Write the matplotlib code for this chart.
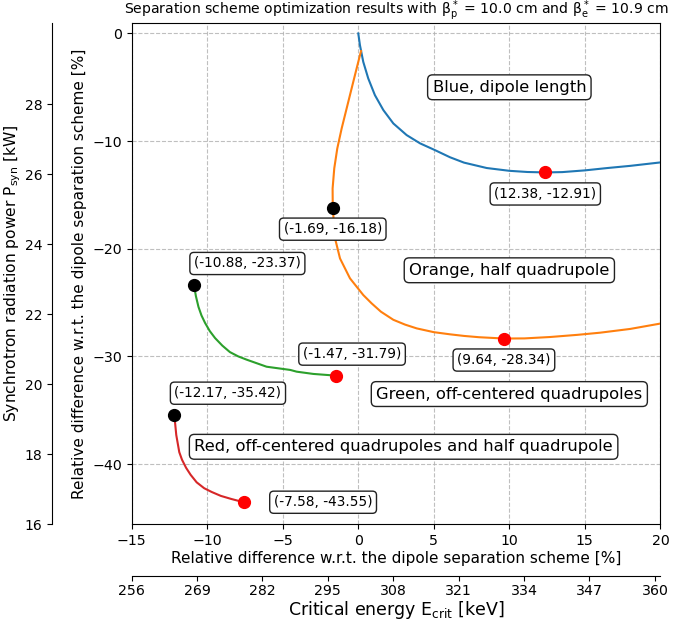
import matplotlib
matplotlib.use("Agg")
import matplotlib.pyplot as plt

# curves (relative difference in %, x = E_crit, y = P_syn)
BLUE_X = [0.0, 0.11, 0.33, 0.66, 1.1, 1.66, 2.32, 3.2, 4.09, 5.08, 6.07, 7.0, 8.5, 10.0,
          11.2, 12.38, 13.5, 15.0, 16.5, 18.0, 20.0]
BLUE_Y = [0.0, -1.09, -2.64, -4.18, -5.73, -7.12, -8.36, -9.44, -10.21, -10.84, -11.5,
          -12.0, -12.5, -12.76, -12.87, -12.91, -12.88, -12.72, -12.5, -12.3, -11.98]

ORANGE_X = [0.18, -0.11, -0.44, -0.77, -1.1, -1.39, -1.59, -1.7, -1.69, -1.54, -1.21,
            -0.55, 0.33, 0.88, 1.5, 2.32, 3.1, 3.87, 5.0, 6.07, 7.0, 8.0, 9.64, 11.0, 12.7,
            14.5, 16.0, 18.0, 20.0]
ORANGE_Y = [-1.64, -3.25, -5.1, -6.96, -8.82, -10.68, -12.53, -14.4, -16.18, -19.03, -20.9,
            -22.75, -24.3, -25.07, -25.85, -26.6, -27.05, -27.4, -27.75, -27.95, -28.1,
            -28.22, -28.34, -28.33, -28.2, -28.0, -27.8, -27.45, -26.95]

GREEN_X = [-10.88, -10.75, -10.58, -10.38, -10.14, -9.83, -9.48, -9.0, -8.5, -7.95, -7.4,
           -6.07, -4.97, -4.5, -4.08, -2.98, -1.47]
GREEN_Y = [-23.37, -24.4, -25.4, -26.2, -26.9, -27.65, -28.3, -29.0, -29.6, -30.0, -30.3,
           -30.96, -31.17, -31.26, -31.42, -31.63, -31.79]

RED_X = [-12.17, -12.14, -12.05, -11.85, -11.67, -11.4, -11.1, -10.7, -10.2, -9.7, -9.1,
         -8.4, -7.58]
RED_Y = [-35.42, -36.0, -37.3, -38.9, -39.6, -40.35, -41.0, -41.7, -42.25, -42.6, -42.96,
         -43.25, -43.55]

COLORS = ["#1f77b4", "#ff7f0e", "#2ca02c", "#d62728"]

# start points (black) and optima (red)
START_PTS = [(-1.69, -16.18), (-10.88, -23.37), (-12.17, -35.42)]
OPT_PTS = [(12.38, -12.91), (9.64, -28.34), (-1.47, -31.79), (-7.58, -43.55)]

X_TICKS = [-15, -10, -5, 0, 5, 10, 15, 20]
Y_TICKS = [0, -10, -20, -30, -40]
P_TICKS = [16, 18, 20, 22, 24, 26, 28]
E_TICKS = [256, 269, 282, 295, 308, 321, 334, 347, 360]

LABELS = [
    ("Blue, dipole length", 10, -5),
    ("Orange, half quadrupole", 10, -22),
    ("Green, off-centered quadrupoles", 10, -33.5),
    ("Red, off-centered quadrupoles and half quadrupole", 3, -38.4),
]

fig = plt.figure(figsize=(6.85, 6.2), dpi=100)
rect = [131.7 / 685, 1 - 524.3 / 620, (660.4 - 131.7) / 685, (524.3 - 22.7) / 620]

# outer axis for synchrotron power
axp = fig.add_axes(rect)
axp.patch.set_visible(False)
for s in ["top", "right", "bottom"]:
    axp.spines[s].set_visible(False)
axp.spines["left"].set_position(("outward", 57.6))
axp.set_xticks([])
axp.set_ylim(16, 30.33)
axp.set_yticks(P_TICKS)
axp.tick_params(axis="y", labelsize=10, pad=3)
axp.set_ylabel(r"Synchrotron radiation power P$_{\rm syn}$ [kW]", fontsize=11.2)
axp.yaxis.set_label_coords(-0.206, 0.5)

# outer axis for critical energy
axe = fig.add_axes(rect)
axe.patch.set_visible(False)
for s in ["top", "right", "left"]:
    axe.spines[s].set_visible(False)
axe.spines["bottom"].set_position(("outward", 37))
axe.set_yticks([])
axe.set_xlim(256, 361.1)
axe.set_xticks(E_TICKS)
axe.tick_params(axis="x", labelsize=10.2, pad=2.5)
axe.set_xlabel(r"Critical energy E$_{\rm crit}$ [keV]", fontsize=12.5, labelpad=1)

ax = fig.add_axes(rect)
ax.grid(True, linestyle="--", color="#b0b0b0", linewidth=0.8, alpha=0.8)
ax.set_axisbelow(True)

for xs, ys, c in zip([BLUE_X, ORANGE_X, GREEN_X, RED_X],
                     [BLUE_Y, ORANGE_Y, GREEN_Y, RED_Y], COLORS):
    ax.plot(xs, ys, color=c, linewidth=1.5, zorder=3)

ax.plot([p[0] for p in START_PTS], [p[1] for p in START_PTS], "o", color="black",
        markersize=8.5, linestyle="none", zorder=4)
ax.plot([p[0] for p in OPT_PTS], [p[1] for p in OPT_PTS], "o", color="red",
        markersize=8.5, linestyle="none", zorder=4)

box = dict(boxstyle="round,pad=0.3", facecolor="white", edgecolor="#222222", linewidth=1)
# (point, offset in points, ha)
annots = [
    (OPT_PTS[0], (0, -15.5), "center"),
    (START_PTS[0], (0, -15.5), "center"),
    (OPT_PTS[1], (0, -15.5), "center"),
    (START_PTS[1], (0, 15.5), "left"),
    (OPT_PTS[2], (11.5, 15.5), "center"),
    (START_PTS[2], (0, 15.5), "left"),
    (OPT_PTS[3], (21.6, 0), "left"),
]
for (px, py), off, ha in annots:
    ax.annotate(f"({px:.2f}, {py:.2f})", xy=(px, py), xytext=off,
                textcoords="offset points", ha=ha, va="center", fontsize=9.8,
                bbox=box, zorder=5)

for text, tx, ty in LABELS:
    ax.text(tx, ty, text, ha="center", va="center", fontsize=11.8,
            bbox=dict(boxstyle="round,pad=0.3", facecolor="white",
                      edgecolor="#222222", linewidth=1), zorder=5)

ax.set_xlim(-15, 20)
ax.set_ylim(-45.6, 1.0)
ax.set_xticks(X_TICKS)
ax.set_yticks(Y_TICKS)
ax.tick_params(labelsize=10.2)
ax.set_xlabel("Relative difference w.r.t. the dipole separation scheme [%]", fontsize=11,
              labelpad=2)
ax.set_ylabel("Relative difference w.r.t. the dipole separation scheme [%]", fontsize=11)
ax.set_title(r"Separation scheme optimization results with β$^*_{\rm p}$ = 10.0 cm and "
             r"β$^*_{\rm e}$ = 10.9 cm", fontsize=10.1, pad=-3)

fig.savefig("out.png", dpi=100)
